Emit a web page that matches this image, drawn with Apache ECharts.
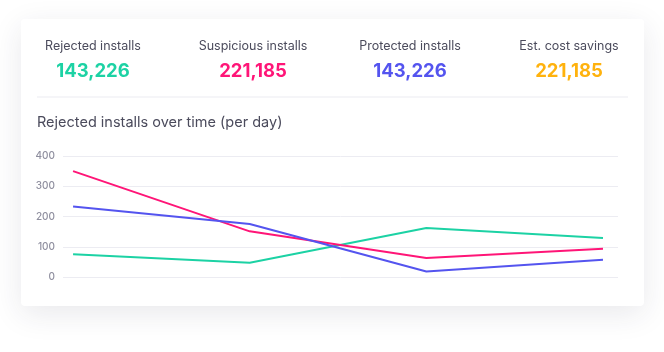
<!DOCTYPE html>
<html>
<head>
<meta charset="utf-8">
<script src="https://cdn.jsdelivr.net/npm/echarts@6/dist/echarts.min.js"></script>
<style>
    html, body { margin: 0; padding: 0; background: #fff; }
    #chart { width: 664px; height: 352px; }
</style>
</head>
<body>
<div id="chart"></div>
<script>
    // top summary
    var statLabels = ['Rejected installs', 'Suspicious installs', 'Protected installs', 'Est. cost savings'];
    var statValues = ['143,226', '221,185', '143,226', '221,185'];
    var statColors = ['#1cd2a4', '#ff1577', '#5454ef', '#ffb20d'];
    var statCenters = [93, 253, 410, 569];

    // chart data
    var days = ['Day 1', 'Day 2', 'Day 3', 'Day 4'];
    var rejected = [75, 47, 162, 129];
    var suspicious = [350, 151, 63, 93];
    var prot = [233, 175, 18, 57];
    var yTicks = [0, 100, 200, 300, 400];

    function pairs(arr) {
        return arr.map(function (v, i) { return [i, v]; });
    }

    var myChart = echarts.init(document.getElementById('chart'));

    var graphics = [{
        type: 'rect',
        shape: { x: 21, y: 19, width: 623, height: 287, r: 4 },
        style: { fill: '#fff', shadowBlur: 30, shadowOffsetY: 8, shadowColor: 'rgba(40,40,70,0.10)' },
        z: -10
    }, {
        type: 'rect',
        shape: { x: 37, y: 96.5, width: 591, height: 1 },
        style: { fill: '#ececf1' }
    }, {
        type: 'text',
        left: 37, top: 115,
        style: { text: 'Rejected installs over time (per day)', fill: '#4b4b5c', font: '14.5px Inter' }
    }];
    statLabels.forEach(function (lab, i) {
        graphics.push({
            type: 'text',
            x: statCenters[i], y: 46,
            style: { text: lab, fill: '#4b4b5c', font: '12.5px Inter', align: 'center', verticalAlign: 'middle' }
        });
        graphics.push({
            type: 'text',
            x: statCenters[i], y: 71,
            style: { text: statValues[i], fill: statColors[i], font: 'bold 18.5px Inter', align: 'center', verticalAlign: 'middle' }
        });
    });

    function line(name, color, data) {
        return {
            name: name,
            type: 'line',
            data: pairs(data),
            symbol: 'none',
            lineStyle: { color: color, width: 2 },
            itemStyle: { color: color }
        };
    }

    myChart.setOption({
        animation: false,
        graphic: graphics,
        grid: { left: 63, right: 46, top: 156, bottom: 75 },
        xAxis: {
            type: 'value',
            min: -0.057,
            max: 3.085,
            axisLine: { show: false },
            axisTick: { show: false },
            axisLabel: { show: false },
            splitLine: { show: false }
        },
        yAxis: {
            type: 'value',
            min: yTicks[0],
            max: yTicks[yTicks.length - 1],
            interval: 100,
            axisLine: { show: false },
            axisTick: { show: false },
            axisLabel: { color: '#8e8e9e', fontSize: 10, fontWeight: 500, fontFamily: 'Inter', margin: 8 },
            splitLine: { lineStyle: { color: '#ececf2', width: 1 } }
        },
        series: [
            line('Rejected installs', '#1cd2a4', rejected),
            line('Suspicious installs', '#ff1577', suspicious),
            line('Protected installs', '#5454ef', prot)
        ]
    });
</script>
</body>
</html>
